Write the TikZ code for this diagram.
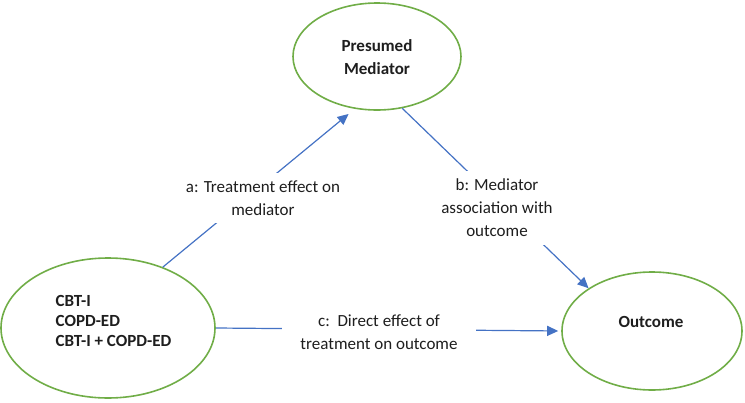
\documentclass[tikz,border=0pt]{standalone}
\usepackage{fontspec}
\setmainfont{Carlito}
\usetikzlibrary{shapes.geometric,arrows.meta}
\definecolor{ogreen}{HTML}{70AD47}
\definecolor{oblue}{HTML}{4472C4}
\definecolor{txt}{HTML}{1E1E1E}
\begin{document}
\begin{tikzpicture}[x=1pt,y=-1pt,
  bubble/.style={ellipse,draw=ogreen,line width=1.6pt,inner sep=0pt},
  btxt/.style={font=\fontsize{17}{23}\selectfont\bfseries,text=txt,align=center,inner sep=0pt},
  ltxt/.style={font=\fontsize{17}{23}\selectfont,text=txt,align=center,fill=white,inner xsep=14pt,inner ysep=8pt},
  conn/.style={draw=oblue,line width=1.2pt,-{Triangle[length=11pt,width=10pt]}}]
\useasboundingbox (0,0) rectangle (745,402);
\node[bubble,minimum width=168pt,minimum height=107pt] (M) at (377,56.5) {};
\node[bubble,minimum width=214pt,minimum height=140pt] (L) at (108,328) {};
\node[bubble,minimum width=180pt,minimum height=118pt] (O) at (652,331) {};
\node[btxt] (Mt) at (377,57) {Presumed\\Mediator};
\node[btxt,align=left,font=\fontsize{17}{20}\selectfont\bfseries] (Lt) at (113.5,321) {CBT-I\\COPD-ED\\CBT-I + COPD-ED};
\node[btxt] (Ot) at (651,322) {Outcome};
\draw[conn,shorten >=8pt] (L.48.9) -- (M.247);
\draw[conn] (M.296) -- (O.146.3);
\draw[conn,shorten >=3pt] (L.east) -- (O.west);
\node[ltxt] (la) at (263,198) {a: Treatment effect on\\mediator};
\node[ltxt] (lb) at (497,208) {b: Mediator\\association with\\outcome};
\node[ltxt,inner xsep=18pt] (lc) at (379,332) {c:\ \ Direct effect of\\treatment on outcome};
\end{tikzpicture}
\end{document}
